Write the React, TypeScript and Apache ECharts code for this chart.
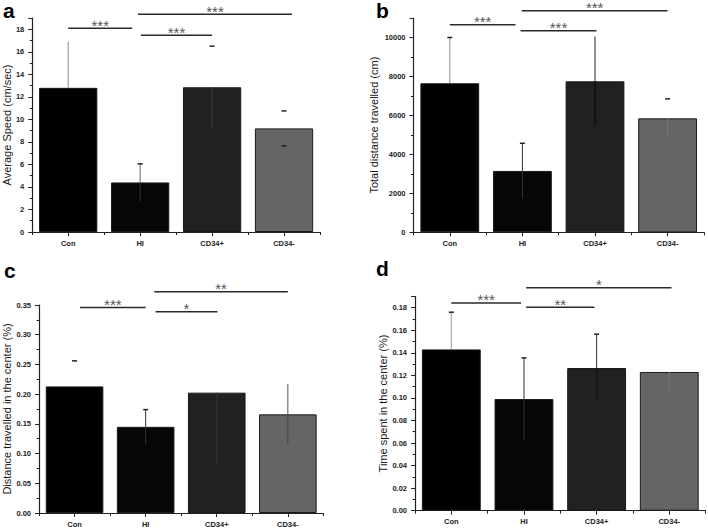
import React, { useEffect, useRef } from 'react';
import * as echarts from 'echarts';

// ---------- data ----------
const categories = ['Con', 'HI', 'CD34+', 'CD34-'];

// a: average speed
const speedMean = [12.8, 4.4, 12.85, 9.2];
const speedErr = [4.1, 1.65, 3.65, 1.55];
const speedSigFrom = [0, 1.01, 0.97];
const speedSigTo = [0.89, 2.0, 3.11];
const speedSigLevel = [18.09, 17.46, 19.33];
const speedSigLabel = ['***', '***', '***'];

// b: total distance
const distMean = [7650, 3150, 7750, 5850];
const distErr = [2350, 1420, 2300, 1000];
const distSigFrom = [0, 0.975, 0.99];
const distSigTo = [0.906, 2.02, 3.0];
const distSigLevel = [10650, 10350, 11370];
const distSigLabel = ['***', '***', '***'];

// c: distance travelled in the center
const centerDistMean = [0.213, 0.145, 0.2025, 0.166];
const centerDistErr = [0.043, 0.029, 0.123, 0.051];
const centerDistSigFrom = [0.077, 1.14, 1.12];
const centerDistSigTo = [1.0, 2.01, 3.0];
const centerDistSigLevel = [0.346, 0.3387, 0.3724];
const centerDistSigLabel = ['***', '*', '**'];

// d: time spent in the center
const centerTimeMean = [0.143, 0.099, 0.1265, 0.123];
const centerTimeErr = [0.033, 0.0365, 0.03, 0.02];
const centerTimeSigFrom = [0, 1.03, 1.03];
const centerTimeSigTo = [0.96, 1.97, 3.03];
const centerTimeSigLevel = [0.1842, 0.1804, 0.1977];
const centerTimeSigLabel = ['***', '**', '*'];

// ---------- styles ----------
const barColors = ['#000000', '#060606', '#212121', '#656565'];
const FONT = 'Liberation Sans, Arial, sans-serif';

type Panel = {
  letter: string;
  letterX: number;
  letterTop: number;
  grid: { left: number; top: number; width: number; height: number };
  max: number;
  interval: number;
  decimals: number;
  showMax: boolean;
  name: string;
  nameGap: number;
  mean: number[];
  err: number[];
  upperStem: (string | null)[];
  upperCap: boolean[];
  lowerStem: (string | null)[];
  lowerCap: boolean[];
  sigFrom: number[];
  sigTo: number[];
  sigLevel: number[];
  sigLabel: string[];
};

const panels: Panel[] = [
  {
    letter: 'a', letterX: 3, letterTop: 0,
    grid: { left: 32, top: 18, width: 288, height: 214 },
    max: 19, interval: 2, decimals: 0, showMax: false,
    name: 'Average Speed (cm/sec)', nameGap: 18,
    mean: speedMean, err: speedErr,
    upperStem: ['#8a8a8a', '#666666', null, null],
    upperCap: [false, true, true, true],
    lowerStem: [null, '#333333', '#383838', null],
    lowerCap: [false, false, false, true],
    sigFrom: speedSigFrom, sigTo: speedSigTo, sigLevel: speedSigLevel, sigLabel: speedSigLabel,
  },
  {
    letter: 'b', letterX: 376, letterTop: 0,
    grid: { left: 413.5, top: 18, width: 290.4, height: 214.3 },
    max: 11000, interval: 2000, decimals: 0, showMax: false,
    name: 'Total distance travelled (cm)', nameGap: 34,
    mean: distMean, err: distErr,
    upperStem: ['#8a8a8a', '#333333', '#222222', null],
    upperCap: [true, true, false, true],
    lowerStem: [null, '#333333', '#050505', '#777777'],
    lowerCap: [false, false, false, false],
    sigFrom: distSigFrom, sigTo: distSigTo, sigLevel: distSigLevel, sigLabel: distSigLabel,
  },
  {
    letter: 'c', letterX: 4, letterTop: 260,
    grid: { left: 39, top: 305, width: 284.4, height: 208 },
    max: 0.35, interval: 0.05, decimals: 2, showMax: true,
    name: 'Distance travelled in the center (%)', nameGap: 26,
    mean: centerDistMean, err: centerDistErr,
    upperStem: [null, '#333333', null, '#555555'],
    upperCap: [true, true, false, false],
    lowerStem: [null, '#333333', '#333333', '#444444'],
    lowerCap: [false, false, false, false],
    sigFrom: centerDistSigFrom, sigTo: centerDistSigTo, sigLevel: centerDistSigLevel, sigLabel: centerDistSigLabel,
  },
  {
    letter: 'd', letterX: 376, letterTop: 258,
    grid: { left: 415, top: 296.4, width: 290.6, height: 214.3 },
    max: 0.19, interval: 0.02, decimals: 2, showMax: false,
    name: 'Time spent in the center (%)', nameGap: 27,
    mean: centerTimeMean, err: centerTimeErr,
    upperStem: ['#999999', '#333333', '#333333', null],
    upperCap: [true, true, true, false],
    lowerStem: [null, '#333333', '#111111', '#777777'],
    lowerCap: [false, false, true, false],
    sigFrom: centerTimeSigFrom, sigTo: centerTimeSigTo, sigLevel: centerTimeSigLevel, sigLabel: centerTimeSigLabel,
  },
];

function buildOption() {
  const grid: any[] = [];
  const xAxis: any[] = [];
  const yAxis: any[] = [];
  const series: any[] = [];
  const graphic: any[] = [];

  panels.forEach((p, k) => {
    grid.push({ ...p.grid, containLabel: false });
    xAxis.push({
      type: 'category', gridIndex: k, data: categories, position: 'bottom',
      axisLine: { show: true, lineStyle: { color: '#222', width: 1.2 } },
      axisTick: { show: true, length: 3, lineStyle: { color: '#222' } },
      axisLabel: { fontSize: 7.5, fontWeight: 'bold', color: '#222', fontFamily: FONT, margin: 7 },
      splitLine: { show: false },
    });
    xAxis.push({
      type: 'category', gridIndex: k, data: categories, position: 'bottom',
      axisLine: { show: false },
      axisTick: { show: true, alignWithLabel: true, length: 4, lineStyle: { color: '#222' } },
      axisLabel: { show: false },
      splitLine: { show: false },
    });
    yAxis.push({
      type: 'value', gridIndex: k, min: 0, max: p.max, interval: p.interval,
      name: p.name, nameLocation: 'middle', nameGap: p.nameGap,
      nameTextStyle: { fontSize: 11, color: '#1a1a1a', fontFamily: FONT },
      axisLine: { show: true, lineStyle: { color: '#222', width: 1.2 } },
      axisTick: { show: true, inside: false, length: 4, lineStyle: { color: '#222' } },
      minorTick: { show: true, splitNumber: 2, length: 2.5, lineStyle: { color: '#222' } },
      splitLine: { show: false },
      minorSplitLine: { show: false },
      axisLabel: {
        fontSize: 7.5, fontWeight: 'bold', color: '#222', fontFamily: FONT, margin: 8,
        showMaxLabel: p.showMax,
        formatter: (v: number) => v.toFixed(p.decimals),
      },
    });

    series.push({
      type: 'bar', xAxisIndex: k * 2, yAxisIndex: k, barWidth: '81%',
      data: p.mean.map((v, i) => ({
        value: v,
        itemStyle: { color: barColors[i], borderColor: '#1a1a1a', borderWidth: 1 },
      })),
      z: 2,
    });

    series.push({
      type: 'custom', xAxisIndex: k * 2, yAxisIndex: k, clip: false, z: 5,
      data: p.mean.map((v, i) => [i, v]),
      renderItem: (params: any, api: any) => {
        const i = params.dataIndex;
        const m = p.mean[i];
        const e = p.err[i];
        const mid = api.coord([i, m]);
        const top = api.coord([i, m + e]);
        const bot = api.coord([i, m - e]);
        const x = mid[0];
        const children: any[] = [];
        if (p.lowerStem[i]) {
          children.push({ type: 'line', shape: { x1: x, y1: mid[1], x2: x, y2: bot[1] }, style: { stroke: p.lowerStem[i], lineWidth: 1 } });
        }
        if (p.upperStem[i]) {
          children.push({ type: 'line', shape: { x1: x, y1: top[1], x2: x, y2: mid[1] }, style: { stroke: p.upperStem[i], lineWidth: 1 } });
        }
        if (p.upperCap[i]) {
          children.push({ type: 'line', shape: { x1: x - 2.5, y1: top[1], x2: x + 2.5, y2: top[1] }, style: { stroke: '#222', lineWidth: 1.5 } });
        }
        if (p.lowerCap[i]) {
          children.push({ type: 'line', shape: { x1: x - 2.5, y1: bot[1], x2: x + 2.5, y2: bot[1] }, style: { stroke: '#222', lineWidth: 1.5 } });
        }
        return { type: 'group', children };
      },
    });

    series.push({
      type: 'custom', xAxisIndex: k * 2, yAxisIndex: k, clip: false, z: 6,
      data: p.sigLevel.map((v) => [0, v]),
      renderItem: (params: any, api: any) => {
        const i = params.dataIndex;
        const band = api.size([1, 0])[0];
        const px = (pos: number) => {
          const f = Math.floor(pos);
          return api.coord([f, p.sigLevel[i]])[0] + (pos - f) * band;
        };
        const y = api.coord([0, p.sigLevel[i]])[1];
        const x1 = px(p.sigFrom[i]);
        const x2 = px(p.sigTo[i]);
        return {
          type: 'group',
          children: [
            { type: 'line', shape: { x1, y1: y, x2, y2: y }, style: { stroke: '#2a2a2a', lineWidth: 1.5 } },
            {
              type: 'text', x: (x1 + x2) / 2, y: y - 3,
              style: { text: p.sigLabel[i], fill: '#555', fontSize: 15, fontFamily: FONT, align: 'center', verticalAlign: 'middle' },
            },
          ],
        };
      },
    });

    graphic.push({
      type: 'text', left: p.letterX, top: p.letterTop,
      style: { text: p.letter, fill: '#000', fontSize: 21, fontWeight: 'bold', fontFamily: FONT },
    });
  });

  return { animation: false, backgroundColor: '#fff', grid, xAxis, yAxis, series, graphic };
}

export default function App() {
  const ref = useRef<HTMLDivElement>(null);
  useEffect(() => {
    const chart = echarts.init(ref.current!, null, { renderer: 'svg' });
    chart.setOption(buildOption());
    return () => chart.dispose();
  }, []);
  return (
    <div
      ref={ref}
      style={{ position: 'absolute', left: 0, top: 0, width: 708, height: 528, background: '#fff' }}
    />
  );
}
